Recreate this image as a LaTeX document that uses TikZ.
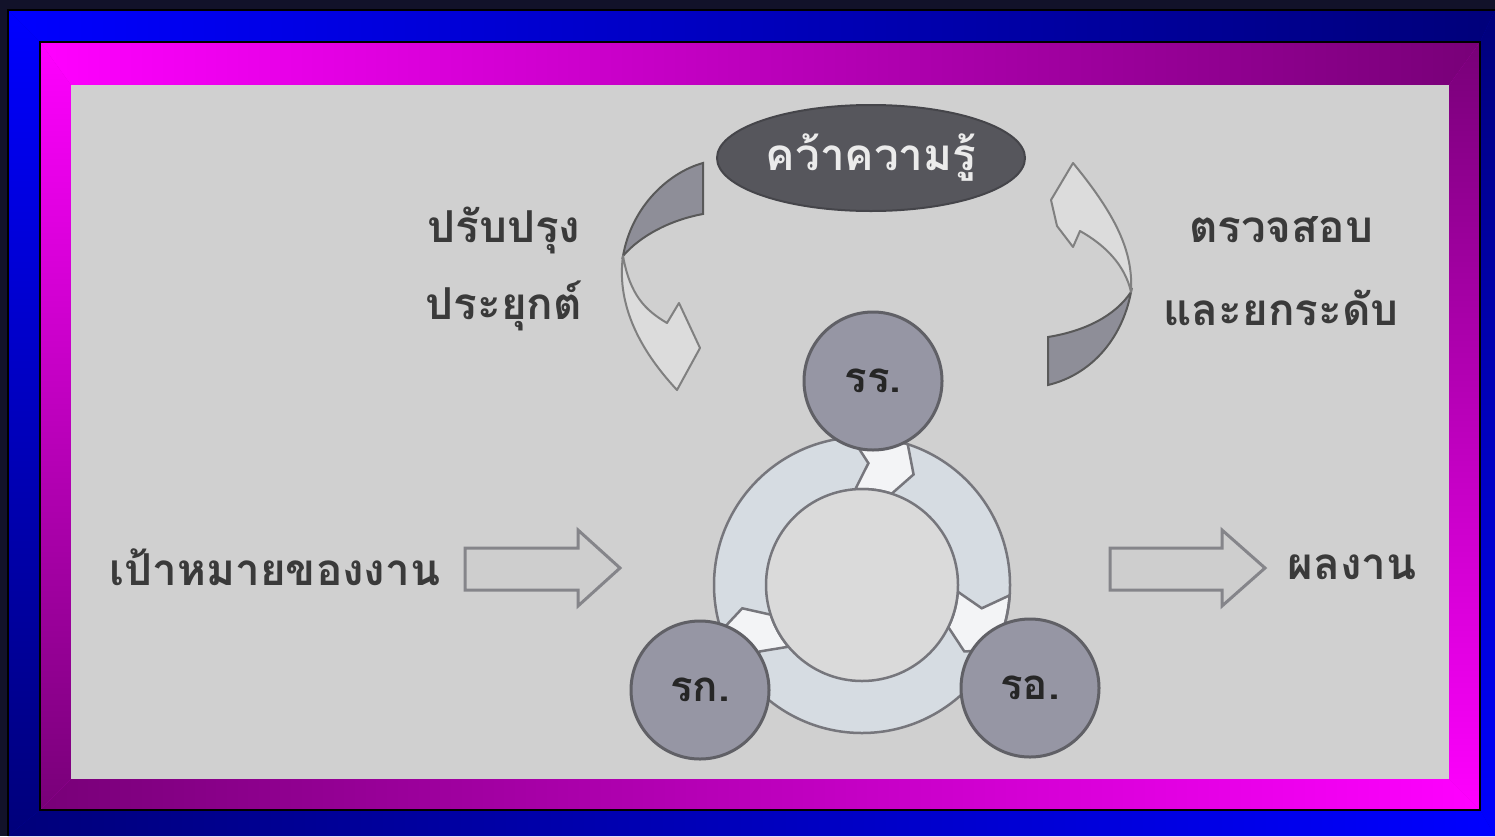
\documentclass[tikz,border=0pt]{standalone}
\usepackage{fontspec}
\newfontfamily\thaifont[Script=Thai]{Loma}
\usetikzlibrary{shapes.geometric}
\definecolor{outerbg}{HTML}{12122A}
\definecolor{bluebright}{HTML}{0000FF}
\definecolor{bluedark}{HTML}{00007A}
\definecolor{bluemid}{HTML}{0000C8}
\definecolor{magbright}{HTML}{FF00FF}
\definecolor{magdark}{HTML}{780078}
\definecolor{magmid}{HTML}{CC00CC}
\definecolor{panel}{HTML}{D0D0D0}
\definecolor{txt}{HTML}{3A3A3A}
\definecolor{ballfill}{HTML}{9696A4}
\definecolor{balledge}{HTML}{606066}
\definecolor{ringfill}{HTML}{D6DCE2}
\definecolor{ringedge}{HTML}{76767C}
\definecolor{innerfill}{HTML}{DADADA}
\definecolor{ovalfill}{HTML}{56565C}
\definecolor{bandfill}{HTML}{8E8E98}
\definecolor{outlinec}{HTML}{85858A}
\definecolor{ribbonfill}{HTML}{DCDCDC}
\tikzset{
  lbl/.style={font=\thaifont\bfseries\fontsize{44}{50}\selectfont, text=txt, inner sep=0pt},
  ball/.style={circle, draw=balledge, line width=3pt, fill=ballfill, minimum size=138pt,
    inner sep=0pt, font=\thaifont\bfseries\fontsize{42}{44}\selectfont, text=black!85},
  oval/.style={ellipse, fill=ovalfill, draw=ovalfill!80!black, line width=2pt,
    minimum width=308pt, minimum height=106pt, inner sep=0pt,
    font=\thaifont\bfseries\fontsize{44}{50}\selectfont, text=white!92!black},
  hollow/.style={fill=panel!104, draw=outlinec, line width=3pt, line join=miter},
  band/.style={fill=bandfill, draw=black!65, line width=2pt},
  ribbon/.style={fill=ribbonfill, draw=black!50, line width=2pt, line join=round},
  chev/.style={fill=white!70!ringfill, draw=ringedge, line width=2.5pt, line join=miter}
}
\begin{document}
\begin{tikzpicture}[x=1pt,y=-1pt]
\useasboundingbox (0,0) rectangle (1495,836);
% frames
\fill[outerbg] (0,0) rectangle (1495,836);
\fill[bluemid] (8,10) rectangle (1495,836);
\shade[left color=bluebright, middle color=bluebright!62!bluedark, right color=bluedark]
  (8,10) -- (1495,10) -- (1480,42) -- (40,42) -- cycle;
\shade[top color=bluedark, middle color=bluebright!38!bluedark, bottom color=bluebright]
  (1495,10) -- (1495,836) -- (1480,810) -- (1480,42) -- cycle;
\shade[left color=bluedark, middle color=bluebright!38!bluedark, right color=bluebright]
  (8,836) -- (1495,836) -- (1480,810) -- (40,810) -- cycle;
\shade[top color=bluebright, middle color=bluebright!62!bluedark, bottom color=bluedark]
  (8,10) -- (8,836) -- (40,810) -- (40,42) -- cycle;
\draw[black, line width=2.5pt] (8,836) -- (8,10) -- (1495,10);
\fill[magmid] (40,42) rectangle (1480,810);
\shade[left color=magbright, middle color=magbright!62!magdark, right color=magdark]
  (40,42) -- (1480,42) -- (1449,85) -- (71,85) -- cycle;
\shade[top color=magdark, middle color=magbright!38!magdark, bottom color=magbright]
  (1480,42) -- (1480,810) -- (1449,779) -- (1449,85) -- cycle;
\shade[left color=magdark, middle color=magbright!38!magdark, right color=magbright]
  (40,810) -- (1480,810) -- (1449,779) -- (71,779) -- cycle;
\shade[top color=magbright, middle color=magbright!62!magdark, bottom color=magdark]
  (40,42) -- (40,810) -- (71,779) -- (71,85) -- cycle;
\draw[black, line width=2.5pt] (40,42) rectangle (1480,810);
\fill[panel] (71,85) rectangle (1449,779);

% central ring
\coordinate (C) at (862,585);
\fill[ringfill, even odd rule] (C) circle (148pt) (C) circle (96pt);
\begin{scope}[shift={(C)}]
  \foreach \a in {-94,4,140}{
    \filldraw[chev] plot[domain=\a:\a+22, samples=12] (\x:148)
      -- (\a+29:122) -- plot[domain=\a+22:\a, samples=12] (\x:96)
      -- (\a+7:122) -- cycle;
  }
\end{scope}
\draw[ringedge, line width=2.5pt] (C) circle (148pt);
\filldraw[fill=innerfill, draw=ringedge, line width=2.5pt] (C) circle (96pt);

% circles
\node[ball] (rr) at (873,381) {รร.};
\node[ball] (rk) at (700,690) {รก.};
\node[ball] (ro) at (1030,688) {รอ.};

% top oval
\node[oval] (kw) at (871,158) {คว้าความรู้};

% left curved arrow
\filldraw[band] (703,163) .. controls (670,172) and (632,205) .. (623,256)
  .. controls (640,236) and (670,220) .. (703,214) -- cycle;
\filldraw[ribbon] (623,256) .. controls (617,300) and (635,345) .. (677,390)
  -- (700,348) -- (679,303) -- (667,323) .. controls (645,310) and (630,295) .. (623,256) -- cycle;

% right curved arrow
\filldraw[band] (1048,337) -- (1048,385) .. controls (1090,375) and (1122,340) .. (1131,292)
  .. controls (1115,316) and (1085,331) .. (1048,337) -- cycle;
\filldraw[ribbon] (1131,292) .. controls (1133,255) and (1120,220) .. (1073,163)
  -- (1051,200) -- (1057,226) -- (1073,247) -- (1080,231)
  .. controls (1105,245) and (1125,265) .. (1131,292) -- cycle;

% side labels
\node[lbl] (pp1) at (504,230) {ปรับปรุง};
\node[lbl] (pp2) at (504,306) {ประยุกต์};
\node[lbl] (tk1) at (1281,230) {ตรวจสอบ};
\node[lbl] (tk2) at (1281,308) {และยกระดับ};

% input / output
\node[lbl] (goal) at (275,567) {เป้าหมายของงาน};
\node[lbl] (res) at (1352,567) {ผลงาน};
\filldraw[hollow] (465,548) -- (578,548) -- (578,530) -- (620,568) -- (578,606) -- (578,590) -- (465,590) -- cycle;
\filldraw[hollow] (1110,548) -- (1222,548) -- (1222,530) -- (1265,568) -- (1222,606) -- (1222,590) -- (1110,590) -- cycle;
\end{tikzpicture}
\end{document}
